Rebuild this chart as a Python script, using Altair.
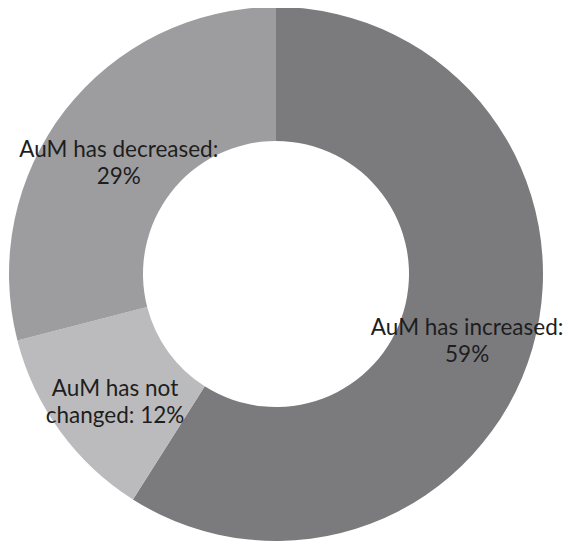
import altair as alt
import pandas as pd

categories = ["increased", "not changed", "decreased"]
labels = ["AuM has increased:\n59%", "AuM has not\nchanged: 12%", "AuM has decreased:\n29%"]
values = [59, 12, 29]
colors = ["#7b7b7e", "#bbbbbd", "#9d9da0"]
order = [0, 1, 2]

df = pd.DataFrame({"cat": categories, "label": labels, "value": values, "ord": order})

cx, cy = 268, 266

base = alt.Chart(df).encode(
    theta=alt.Theta("value:Q", stack=True),
    order=alt.Order("ord:Q"),
)

arc = base.mark_arc(innerRadius=133, outerRadius=267).encode(
    color=alt.Color("cat:N", scale=alt.Scale(domain=categories, range=colors), legend=None),
    x=alt.value(cx),
    y=alt.value(cy),
)

text = base.mark_text(
    radius=199, font="Lato", fontSize=22.5, color="#1e1e1e", lineBreak="\n",
    lineHeight=27, align="center", baseline="middle",
).encode(
    text="label:N",
    x=alt.value(cx),
    y=alt.value(cy - 2),
)

chart = alt.layer(arc, text).properties(
    width=558, height=533, padding=0, autosize=alt.AutoSizeParams(type="none")
).configure_view(stroke=None)

chart.save("out.html", embed_options={"renderer": "svg", "actions": False})
